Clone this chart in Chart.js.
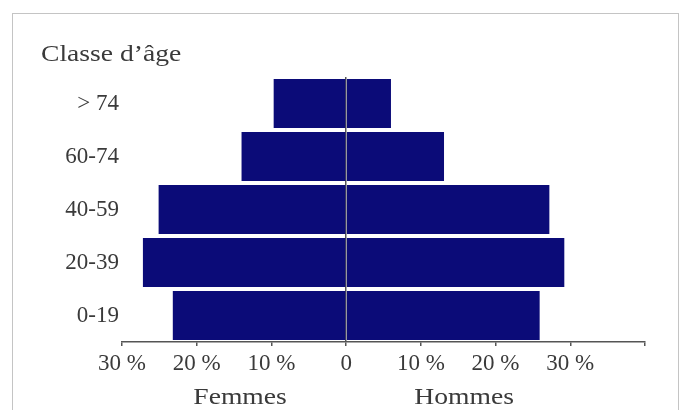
<!DOCTYPE html>
<html>
<head>
<meta charset="utf-8">
<script src="https://cdn.jsdelivr.net/npm/chart.js@4"></script>
<style>
  html, body { margin: 0; padding: 0; background: #fff; }
  #wrap { position: relative; width: 680px; height: 410px; overflow: hidden; }
  #cadre { position: absolute; left: 12px; top: 13px; width: 667px; height: 420px;
           border: 1px solid #c4c4c4; box-sizing: border-box; }
  canvas { position: absolute; left: 0; top: 0; }
</style>
</head>
<body>
<div id="wrap">
  <div id="cadre"></div>
  <canvas id="pyramide" width="680" height="410"></canvas>
</div>
<script>
const classes = ["> 74", "60-74", "40-59", "20-39", "0-19"];
const femmes = [9.7, 14.0, 25.1, 27.2, 23.2];
const hommes = [6.0, 13.1, 27.2, 29.2, 25.9];
const titreAxeY = "Classe d\u2019âge";
const titresAxeX = ["Femmes", "Hommes"];

const couleurBarre = "#0b0b78";
const couleurTexte = "#3a3a3a";
const police = "'Liberation Serif', 'DejaVu Serif', serif";

// texte un peu étiré comme sur le scan
function texteEtire(ctx, txt, x, y, etirement) {
  ctx.save();
  ctx.translate(x, y);
  ctx.scale(etirement, 1);
  ctx.fillText(txt, 0, 0);
  ctx.restore();
}

const textesPlugin = {
  id: "textes",
  afterDraw(chart) {
    const ctx = chart.ctx;
    const x = chart.scales.x;
    ctx.save();
    ctx.fillStyle = couleurTexte;
    ctx.textBaseline = "middle";
    ctx.font = "24px " + police;
    ctx.textAlign = "left";
    texteEtire(ctx, titreAxeY, 41, 55, 1.15);
    ctx.textAlign = "center";
    texteEtire(ctx, titresAxeX[0], x.getPixelForValue(-14.2), 398, 1.15);
    texteEtire(ctx, titresAxeX[1], x.getPixelForValue(15.8), 398, 1.15);
    ctx.restore();
  },
};

const ctx = document.getElementById("pyramide").getContext("2d");
new Chart(ctx, {
  type: "bar",
  data: {
    labels: classes,
    datasets: [
      {
        label: "Femmes",
        data: femmes.map((v) => -v),
        backgroundColor: couleurBarre,
        categoryPercentage: 1,
        barPercentage: 0.92,
      },
      {
        label: "Hommes",
        data: hommes,
        backgroundColor: couleurBarre,
        categoryPercentage: 1,
        barPercentage: 0.92,
      },
    ],
  },
  options: {
    indexAxis: "y",
    responsive: false,
    animation: false,
    layout: { padding: { left: 0, top: 77, right: 35, bottom: 0 } },
    plugins: {
      legend: { display: false },
      tooltip: { enabled: false },
    },
    scales: {
      x: {
        stacked: true,
        min: -30,
        max: 40,
        afterFit(scale) { scale.height = 68; },
        border: { color: "#555", width: 1.5 },
        grid: {
          color: (c) => (c.tick && c.tick.value === 0 ? "#555" : "transparent"),
          lineWidth: 1.5,
          tickColor: "#555",
          tickLength: 4,
        },
        ticks: {
          stepSize: 10,
          padding: 4,
          color: couleurTexte,
          font: { family: police, size: 23 },
          callback: (v) => (v === 40 ? "" : v === 0 ? "0" : Math.abs(v) + " %"),
        },
      },
      y: {
        stacked: true,
        afterFit(scale) { scale.width = 122; },
        border: { display: false },
        grid: { display: false, drawTicks: false },
        ticks: {
          padding: 3,
          color: couleurTexte,
          font: { family: police, size: 23 },
        },
      },
    },
  },
  plugins: [textesPlugin],
});
</script>
</body>
</html>
